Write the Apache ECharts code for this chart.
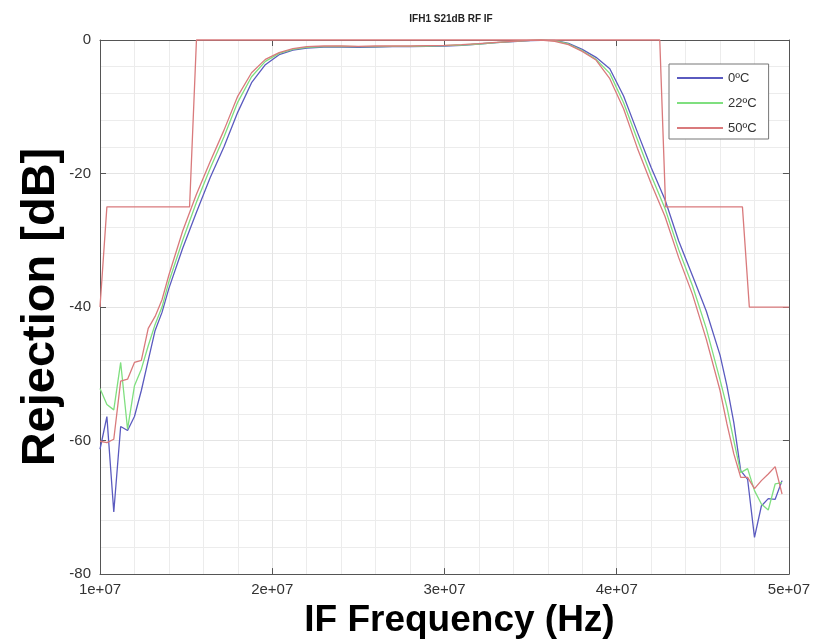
<!DOCTYPE html>
<html>
<head>
<meta charset="utf-8">
<title>IFH1 S21dB RF IF</title>
<script src="https://cdn.jsdelivr.net/npm/echarts@6/dist/echarts.min.js"></script>
<style>
html,body{margin:0;padding:0;background:#fff;}
#main{width:813px;height:644px;}
</style>
</head>
<body>
<div id="main"></div>
<script>
// frequency in MHz (axis shows it as 1e+07 ...)
var freq = [10.0, 10.4, 10.8, 11.2, 11.6, 12.0, 12.4, 12.8, 13.2, 13.6, 14.0, 14.8, 15.6, 16.4, 17.2, 18.0, 18.8, 19.6, 20.4, 21.2,
    22, 23, 24, 25, 26, 27, 28, 29, 30, 31, 32, 33, 34, 35, 35.6,
    36.4, 37.2, 38.0, 38.8, 39.6, 40.4, 41.2, 42.0, 42.8, 43.6, 44.4, 45.2, 46.0, 46.4, 46.8, 47.2, 47.6, 48.0, 48.4, 48.8, 49.2, 49.6];
var s21_0C = [-61.3, -56.4, -70.7, -57.9, -58.5, -56.4, -52.5, -48.0, -43.5, -40.8, -37.2, -31.2, -25.8, -20.6, -16.0, -10.8, -6.4, -3.7, -2.2, -1.5,
    -1.2, -1.05, -1.05, -1.1, -1.05, -1.0, -1.0, -0.95, -0.9, -0.8, -0.6, -0.4, -0.25, -0.1, -0.05,
    -0.05, -0.5, -1.4, -2.6, -4.3, -8.4, -13.8, -19.1, -23.9, -30.1, -35.3, -40.6, -47.2, -51.8, -57.3, -64.5, -65.8, -74.5, -69.8, -68.7, -68.8, -66.0];
var s21_22C = [-52.2, -54.6, -55.4, -48.3, -58.3, -51.8, -49.3, -45.8, -42.6, -40.0, -36.2, -30.0, -24.3, -19.2, -14.5, -9.3, -5.5, -3.2, -2.0, -1.4,
    -1.1, -1.0, -0.95, -1.0, -1.0, -0.95, -0.95, -0.9, -0.85, -0.75, -0.6, -0.4, -0.2, -0.05, 0,
    -0.1, -0.6, -1.6, -2.9, -5.0, -9.4, -14.9, -20.3, -25.2, -31.4, -36.8, -43.2, -50.9, -55.0, -60.0, -64.8, -64.2, -67.5, -69.5, -70.4, -66.5, -66.3];
var s21_50C = [-60.1, -60.3, -59.8, -51.1, -50.8, -48.3, -48.0, -43.2, -41.4, -38.9, -35.2, -28.6, -23.1, -18.2, -13.5, -8.4, -4.9, -2.9, -1.9, -1.3,
    -1.0, -0.9, -0.9, -0.95, -0.9, -0.9, -0.9, -0.85, -0.8, -0.7, -0.55, -0.35, -0.2, -0.05, 0,
    -0.2, -0.7, -1.7, -3.0, -5.8, -10.3, -16.2, -21.5, -26.4, -32.6, -38.1, -44.8, -52.5, -57.5, -62.0, -65.5, -65.5, -67.2, -66.0, -65.0, -63.9, -68.0];
// rejection mask
var maskFreq = [10.0, 10.4, 15.2, 15.6, 42.5, 42.84, 47.3, 47.7, 50.0];
var maskDb = [-40, -25, -25, 0, 0, -25, -25, -40, -40];

var xTickLabels = ['1e+07', '2e+07', '3e+07', '4e+07', '5e+07'];
var names = ['0ºC', '22ºC', '50ºC'];
var colors = ['#5a5abf', '#7fdf7f', '#d97a7c'];

var FONT = 'Liberation Sans, Arial, sans-serif';

function pairs(xs, ys) {
    return xs.map(function (x, i) { return [x, ys[i]]; });
}

var chart = echarts.init(document.getElementById('main'), null, {renderer: 'canvas'});

var gridLine = {show: true, lineStyle: {color: '#e4e4e4', width: 1}};
var minorLine = {show: true, lineStyle: {color: '#ececec', width: 1}};
var boxLine = {show: true, onZero: false, lineStyle: {color: '#555', width: 1}};
var boxTick = {show: true, inside: true, length: 6, lineStyle: {color: '#555'}};

var option = {
    backgroundColor: '#fff',
    animation: false,
    textStyle: {fontFamily: FONT},
    title: {
        text: 'IFH1 S21dB RF IF',
        left: 446,
        textAlign: 'center',
        top: 9,
        textStyle: {fontFamily: FONT, fontWeight: 'bold', fontSize: 10, color: '#222'}
    },
    legend: {
        data: names,
        orient: 'vertical',
        left: 669,
        top: 64,
        icon: 'rect',
        itemWidth: 46,
        itemHeight: 2,
        itemGap: 9,
        padding: [6, 12, 3, 8],
        backgroundColor: '#fff',
        borderColor: '#777',
        borderWidth: 1,
        textStyle: {fontFamily: FONT, fontSize: 13, color: '#333', lineHeight: 16}
    },
    grid: {left: 100, right: 20, top: 40, bottom: 69, containLabel: false},
    xAxis: [{
        type: 'value',
        min: 10, max: 50, interval: 10,
        name: 'IF Frequency (Hz)',
        nameLocation: 'middle',
        nameGap: 24,
        nameTextStyle: {fontFamily: FONT, fontWeight: 'bold', fontSize: 37, color: '#000', padding: [0, 0, 0, 30]},
        axisLine: boxLine,
        axisTick: boxTick,
        axisLabel: {
            margin: 8, fontSize: 15, color: '#333', fontFamily: FONT,
            formatter: function (v) { return xTickLabels[Math.round((v - 10) / 10)]; }
        },
        splitLine: gridLine,
        minorTick: {show: false, splitNumber: 5},
        minorSplitLine: minorLine
    }, {
        type: 'value', position: 'top',
        min: 10, max: 50, interval: 10,
        axisLine: boxLine,
        axisTick: boxTick,
        axisLabel: {show: false},
        splitLine: {show: false}
    }],
    yAxis: [{
        type: 'value',
        min: -80, max: 0, interval: 20,
        name: 'Rejection [dB]',
        nameLocation: 'middle',
        nameRotate: 90,
        nameGap: 35,
        nameMoveOverlap: false,
        nameTextStyle: {fontFamily: FONT, fontWeight: 'bold', fontSize: 47, color: '#000'},
        axisLine: boxLine,
        axisTick: boxTick,
        axisLabel: {margin: 9, fontSize: 15, color: '#333', fontFamily: FONT},
        splitLine: gridLine,
        minorTick: {show: false, splitNumber: 5},
        minorSplitLine: minorLine
    }, {
        type: 'value', position: 'right',
        min: -80, max: 0, interval: 20,
        axisLine: boxLine,
        axisTick: boxTick,
        axisLabel: {show: false},
        splitLine: {show: false}
    }],
    series: [
        {name: names[0], type: 'line', data: pairs(freq, s21_0C)},
        {name: names[1], type: 'line', data: pairs(freq, s21_22C)},
        {name: names[2], type: 'line', data: pairs(freq, s21_50C)},
        {name: 'mask', type: 'line', data: pairs(maskFreq, maskDb), clip: false, z: 5}
    ].map(function (s, i) {
        var c = colors[Math.min(i, 2)];
        s.symbol = 'none';
        s.color = c;
        s.lineStyle = {color: c, width: 1.3};
        s.xAxisIndex = 0;
        s.yAxisIndex = 0;
        return s;
    })
};

chart.setOption(option);
</script>
</body>
</html>
